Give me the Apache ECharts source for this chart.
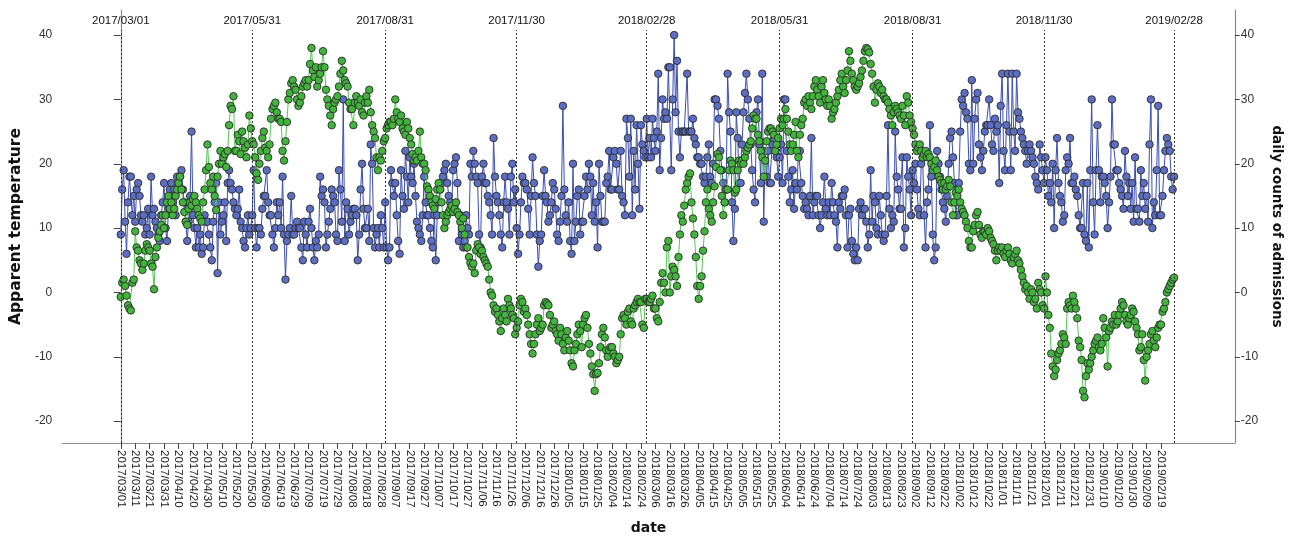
<!DOCTYPE html>
<html><head><meta charset="utf-8">
<script src="https://cdn.jsdelivr.net/npm/echarts@6/dist/echarts.min.js"></script>
<style>html,body{margin:0;padding:0;background:#fff;overflow:hidden;width:1291px;height:540px}#c{position:absolute;left:0;top:0;width:1291px;height:540px}</style>
</head><body><div id="c"></div>
<script>
// Day 0 = 2017/03/01, one value per day through 2019/02/28 (730 days)
const startDate = '2017/03/01';
const refLines = ['2017/03/01','2017/05/31','2017/08/31','2017/11/30','2018/02/28','2018/05/31','2018/08/31','2018/11/30','2019/02/28'];
const yTicks = [-20, -10, 0, 10, 20, 30, 40];
const xTickStep = 10;
const xTickLast = 720;

const temperature = [
-0.7,1.5,2,1,-0.5,-2,-2.5,-2.8,1.5,2,
9.5,7,6.5,5,4.5,3.5,4.5,6.5,7.5,7,
6.5,4.5,4,0.5,5.5,7,8.5,9.5,10.5,12,
10,12,14,15,13,14,12,13,15,16,
17,18,16,14,12.5,11,10.5,13,14,13.5,
14.5,15,14,13,12,11.5,11,14,16,19,
23,19.5,17,16,18,15,12.8,18,20,22,
20,21,21.5,19.5,22,26,29,28.5,30.5,22,
22,24.5,23.5,21.5,25,23.5,22.5,21,23,27.5,
25.5,23.5,23,21,18.5,17.5,20,22,24,25,
22.5,22,21,23,27,28.5,29,29.5,28,27,
27,26.5,22,20.5,23.5,26.5,30,31,32.5,33,
32,31.5,30,29,29.5,30.5,32,32.5,33,32,
33,35.5,38,34.5,33.5,35,32,33,34,35,
37.5,35,31.5,30,29,27.5,26,28.5,29.5,30,
30.5,32,34,36,34.5,33,32.5,32,29.5,28.5,
28.5,26,29.5,30.5,29.5,29,30,28,27.5,29.5,
30.5,29.5,31.5,28,26,25,24,21,19,21,
20.5,22,23.5,24,25.5,26,26.5,26.5,26,27,
30,28,27,26.5,27.5,25.5,25,24.5,26.5,25.5,
24,23,21.5,20.5,21,20.5,22,25,21,20,
20,19,16.5,16,15,14,13.5,13,14.5,16,
17,16,14,12,10,11,12,12.5,13,13.5,
12.5,13,14,12.5,12,11,10,11.5,9,7,
7,5.5,4.6,4,4.5,3,6.5,7.5,7,6,
6.5,5.5,5,4.5,4,2,0,-0.5,-2,-3,
-2.5,-3.5,-4.5,-6,-4,-2.5,-3.5,-4.5,-1,-2,
-2.5,-3.5,-4,-6.5,-5.5,-4.5,-2,-1,-1.5,-3,
-2.5,-3.5,-5,-6.5,-8,-9.5,-8,-6.5,-5,-4,
-6,-5.5,-5,-2,-1.5,-1.7,-2,-3.5,-5.5,-5,
-4.5,-6,-6.5,-7.5,-5.5,-6.5,-8,-9,-7,-6,
-7.5,-9,-11,-11.5,-9,-8,-6.5,-5,-6,-8.5,
-5,-4,-3.5,-5.5,-8,-9.5,-11.5,-12.7,-15.3,-12.7,
-12.5,-11,-8.5,-6.5,-5.5,-7,-9,-10,-9,-8.5,
-8.5,-9.5,-10,-11,-10.5,-10,-6.5,-4,-3.5,-4,
-5,-3,-2.5,-4.5,-5,-2.5,-2,-1.5,-1,-1.5,
-1.5,-5,-5.5,-1,-1,-1.5,-1.5,-1,-0.5,-2.5,
-2.5,-4,-4.5,-1.5,1.5,3,1.5,0,7,8,
0,2.5,4,3.5,2.5,1,5.5,9,12,11,
13.5,16,17,18,18.5,14,11.5,9,5.5,1,
-1,1,2.5,6.5,9.5,14,16,13,12,11,
14,16.5,19.5,21.5,21,19,15,12,14,16,
16,19,20.5,20,19,15.5,16,19,20.5,20,
20.5,20,21,22,22.5,23,23.5,25.5,27.5,27,
27,24.5,23.5,22,21,18,20.5,23.5,25,25.5,
25.5,25,24.5,22,23,24,25.5,27,26,27,
28.5,27,25,23,22,23,24.5,26.5,22,21,
24.5,26,27,29.5,30,29,30.5,29.5,28.5,30.5,
32,33,31.5,30.5,29.5,32,33,31,30,29,
30,29,27,28,28.5,29.5,30.5,31.5,33,34,
32,31,33,34.5,37.5,36,34,33,32,31.5,
32,32.5,33.5,34.5,36,37.5,38,37.8,37.3,35.5,
34,32,29.5,31.5,32.5,32,31,31.5,30.5,30,
30,29.5,28.5,27.5,26,28,29,28.5,28,27.5,
27,29,27.5,26,30.5,29.5,27.5,26.5,25.5,24.5,
23,22,22.5,23,22,21,21.5,22,21,21.5,
21,20,19,19.5,20.5,19,18,17.5,17,16,
17,16,16.5,17.5,16.5,14,12,14,15.5,15,
16,14,13,12.5,12,11,10,8,7,7,
9.5,10.5,12,12.5,10.5,9,8.5,9.5,9.5,9,
10,9.5,8.5,8,7.5,6.5,5,6.5,7,6.5,
7,6,5.5,6.5,7,6,5,4.5,5.5,6,
6.5,5,4.5,3.5,2.5,1.5,0.5,1,0,-1,
0.5,0,-1.5,-1,-2.5,1.5,0.5,0,-2,-2.5,
2.5,0,-3.5,-5.5,-9.5,-11.5,-13,-12,-10.5,-9.5,
-9,-8,-6.5,-7,-8,-2.5,-1.5,-2,-2.5,-0.5,
-1.5,-2.5,-4,-7.5,-8.5,-10.5,-15.3,-16.3,-13,-11,
-12,-11,-10,-9,-8,-7.5,-7,-8.5,-9,-8,
-4,-5.5,-7,-11.5,-6,-5.5,-4.5,-5,-3.5,-5,
-4.5,-3.5,-2.5,-1.5,-2,-3.5,-4.5,-5,-4,-3.5,
-2.5,-3,-4.5,-5.5,-6.5,-9,-8.5,-6.5,-10.5,-13.7,
-10,-9,-8,-6.5,-6,-7.5,-8.5,-7,-5.5,-5,
-5,-3,-2.5,-1.5,0,0.5,1,1.5,2,2.3
];

const admissions = [
9,16,19,11,6,14,18,18,12,15,
11,16,17,15,12,11,12,9,10,13,
9,18,12,13,11,10,9,8,12,14,
17,10,8,13,16,17,14,16,12,18,
16,18,19,16,14,11,8,11,15,25,
12,10,7,10,7,9,6,7,12,11,
11,9,7,5,11,14,17,3,14,9,
11,12,14,8,17,19,17,16,14,13,
12,13,16,11,10,8,7,10,12,9,
10,12,19,10,7,10,10,9,13,15,
15,19,14,12,12,9,7,10,14,12,
14,10,18,9,2,8,9,10,15,9,
9,10,11,10,10,7,5,11,9,7,
11,13,10,7,5,8,7,9,18,15,
16,14,7,9,11,13,16,15,14,9,
8,19,16,11,30,8,14,13,9,11,
12,13,13,12,5,9,16,20,13,10,
10,13,8,23,20,10,7,9,10,7,
12,10,7,14,7,5,7,19,17,15,
17,12,8,6,19,15,13,22,18,14,
21,18,17,20,15,11,10,9,8,12,
18,14,12,12,10,8,7,12,5,12,
14,16,17,18,19,20,17,15,14,13,
19,20,21,17,8,12,9,7,8,12,
10,9,20,18,22,20,18,17,9,7,
18,20,17,17,15,14,12,9,24,18,
15,14,12,9,7,14,18,14,13,9,
18,20,14,16,10,6,9,14,18,17,
17,16,13,9,15,21,17,15,9,4,
8,9,15,19,15,14,11,12,14,17,
16,13,9,8,11,15,29,16,12,11,
14,8,6,20,8,11,15,16,9,11,
11,15,18,16,20,18,12,17,11,14,
7,20,15,11,11,11,17,18,22,16,
16,21,22,20,16,16,22,15,14,12,
27,24,18,27,12,22,16,26,20,13,
26,23,22,21,27,21,24,21,27,24,
22,25,34,19,24,30,27,28,27,35,
35,19,30,40,28,36,25,21,25,25,
25,25,34,25,25,25,27,24,23,21,
21,20,20,18,17,18,21,23,18,17,
20,30,30,29,27,22,19,17,14,16,
34,28,25,14,8,13,28,24,17,17,
23,28,31,34,30,27,23,19,16,14,
28,30,23,17,34,11,22,18,22,17,
17,23,24,22,21,18,21,23,17,30,
30,22,18,14,16,19,13,17,16,22,
22,17,15,13,14,13,12,15,24,12,
14,15,15,12,10,12,14,18,13,12,
14,12,17,14,12,11,7,14,13,15,
15,16,12,7,12,13,8,6,5,7,
5,13,14,12,13,13,11,7,9,19,
11,15,14,10,9,15,12,9,8,9,
15,26,13,10,12,11,25,18,16,13,
13,21,7,10,21,18,16,12,19,17,
20,16,13,12,20,21,12,7,14,16,
26,18,9,5,7,22,20,18,16,14,
13,11,15,20,24,25,21,17,12,12,
17,25,30,29,31,28,27,20,19,33,
20,27,30,31,23,21,19,22,25,26,
26,30,26,23,22,27,25,26,17,29,
34,22,19,26,34,25,19,34,25,22,
34,28,27,25,24,23,22,20,22,23,
22,21,20,18,17,16,23,21,19,17,
21,19,15,17,14,20,10,19,24,17,
15,14,11,12,19,21,20,24,17,17,
18,16,15,12,10,10,17,9,8,17,
7,19,30,14,9,19,26,19,14,18,
18,17,15,10,14,18,30,23,23,19,
19,17,16,15,13,22,18,15,17,13,
17,11,21,13,13,11,19,15,17,13,
15,11,23,30,10,14,12,19,29,12,
12,15,19,22,24,23,22,18,16,18
];

// ---------- helpers ----------
const DAY = 86400000;
function parseD(s){ const p = s.split('/').map(Number); return Date.UTC(p[0], p[1]-1, p[2]); }
const t0 = parseD(startDate);
function pad(n){ return (n < 10 ? '0' : '') + n; }
function dayToLabel(d){ const dt = new Date(t0 + d*DAY); return dt.getUTCFullYear() + '/' + pad(dt.getUTCMonth()+1) + '/' + pad(dt.getUTCDate()); }
function labelToDay(s){ return Math.round((parseD(s) - t0)/DAY); }

const xTicks = [];
for (let d = 0; d <= xTickLast; d += xTickStep) xTicks.push(d);

const Y_MIN = -23.4, Y_MAX = 43.9;
const X_MIN = -40.5, X_MAX = 771;
const LINE_TOP = 40.8;

const tempData = temperature.map((v, i) => [i, v]);
const admData = admissions.map((v, i) => [i, v]);

const markData = refLines.map(s => {
  const d = labelToDay(s);
  return [{ coord: [d, Y_MIN] }, { coord: [d, LINE_TOP], label: { formatter: s } }];
});

const chart = echarts.init(document.getElementById('c'), null, { renderer: 'canvas', width: 1291, height: 540 });
const FONT = '"Liberation Sans", Arial, sans-serif';
const TFONT = '"DejaVu Sans", sans-serif';
const axisGray = '#8c8c8c';

const yAxisCommon = {
  type: 'value', min: Y_MIN, max: Y_MAX,
  splitLine: { show: false },
  axisLine: { show: true, lineStyle: { color: axisGray, width: 1.2 } },
  nameLocation: 'middle', nameRotate: 90,
  nameTextStyle: { fontFamily: TFONT, fontWeight: 'bold', color: '#111' }
};

chart.setOption({
  animation: false,
  backgroundColor: '#fff',
  grid: { left: 59, right: 43, top: 10, bottom: 92, containLabel: false },
  xAxis: {
    type: 'value', min: X_MIN, max: X_MAX,
    name: 'date', nameLocation: 'middle', nameGap: 78,
    nameTextStyle: { fontFamily: TFONT, fontWeight: 'bold', fontSize: 14, color: '#111' },
    splitLine: { show: false },
    axisLine: { show: true, onZero: false, lineStyle: { color: axisGray, width: 1.2 } },
    axisTick: { show: true, length: 6, customValues: xTicks, lineStyle: { color: '#444', width: 1 } },
    axisLabel: {
      customValues: xTicks, rotate: -90, margin: 7,
      color: '#222', fontSize: 11.5, fontFamily: FONT,
      formatter: v => dayToLabel(Math.round(v))
    }
  },
  yAxis: [
    Object.assign({}, yAxisCommon, {
      position: 'left', name: 'Apparent temperature', nameGap: 38,
      axisTick: { show: true, length: 7, customValues: yTicks, lineStyle: { color: '#444', width: 1 } },
      axisLabel: { customValues: yTicks, color: '#333', fontSize: 12, fontFamily: FONT, margin: 10 },
      nameTextStyle: Object.assign({}, yAxisCommon.nameTextStyle, { fontSize: 15.5 })
    }),
    Object.assign({}, yAxisCommon, {
      position: 'right', name: 'daily counts of admissions', nameGap: 33, nameRotate: -90,
      axisTick: { show: true, length: 5, customValues: yTicks, lineStyle: { color: '#444', width: 1 } },
      axisLabel: { customValues: yTicks, color: '#333', fontSize: 12, fontFamily: FONT, margin: 6 },
      nameTextStyle: Object.assign({}, yAxisCommon.nameTextStyle, { fontSize: 13.5 })
    })
  ],
  series: [
    {
      name: 'daily counts of admissions', type: 'line', yAxisIndex: 1,
      data: admData, showAllSymbol: true,
      symbol: 'circle', symbolSize: 7.5,
      lineStyle: { color: '#3a4db3', width: 1 },
      itemStyle: { color: '#5b6ec4', borderColor: '#2b2b2b', borderWidth: 0.9 },
      z: 2,
      markLine: {
        silent: true, symbol: ['none', 'none'], animation: false,
        lineStyle: { color: '#333', type: [2, 2], width: 1 },
        label: { show: true, position: 'end', distance: 3, color: '#111', fontSize: 11.5, fontFamily: FONT },
        data: markData
      }
    },
    {
      name: 'Apparent temperature', type: 'line', yAxisIndex: 0,
      data: tempData, showAllSymbol: true,
      symbol: 'circle', symbolSize: 7.5,
      lineStyle: { color: '#55c855', width: 1 },
      itemStyle: { color: '#41b53b', borderColor: '#2b2b2b', borderWidth: 0.9 },
      z: 3
    }
  ]
});
</script>
</body></html>
